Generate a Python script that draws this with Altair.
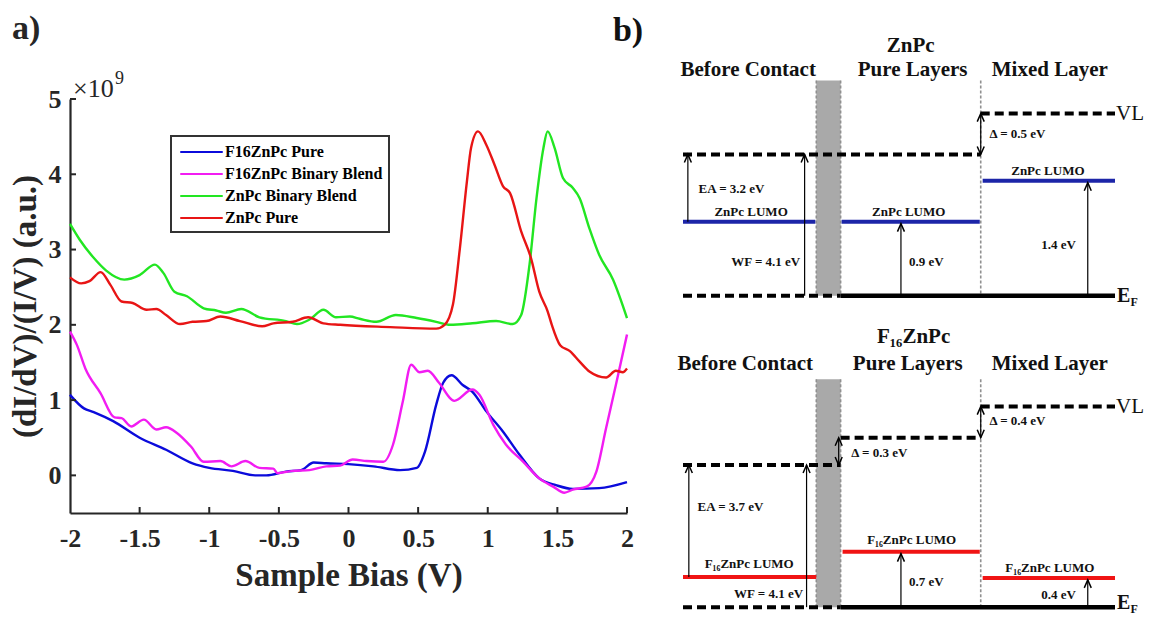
import altair as alt
import pandas as pd

FONT = "Liberation Serif"
AX = "#262626"

# ---------------- panel a) : STS curves ----------------
series_names = ["F16ZnPc Pure", "F16ZnPc Binary Blend", "ZnPc Binary Blend", "ZnPc Pure"]
series_colors = ["#0b0bdb", "#f21cf2", "#22e622", "#e81515"]

f16_pure_x = [-2.00, -1.90, -1.83, -1.69, -1.50, -1.31, -1.12, -1.00, -0.83, -0.67, -0.59, -0.45, -0.34,
              -0.25, -0.16, 0.00, 0.18, 0.37, 0.49, 0.55, 0.63, 0.68, 0.74, 0.82, 0.89, 0.99, 1.11, 1.23,
              1.37, 1.49, 1.61, 1.80, 2.00]
f16_pure_y = [1.07, 0.89, 0.84, 0.72, 0.50, 0.34, 0.16, 0.10, 0.06, 0.00, 0.00, 0.05, 0.07,
              0.17, 0.16, 0.15, 0.12, 0.07, 0.10, 0.32, 0.94, 1.23, 1.33, 1.20, 1.11, 0.85, 0.58, 0.27,
              -0.04, -0.13, -0.18, -0.17, -0.09]

f16_blend_x = [-2.00, -1.95, -1.89, -1.78, -1.68, -1.63, -1.56, -1.47, -1.38, -1.31, -1.23, -1.13, -1.04,
               -0.92, -0.84, -0.74, -0.64, -0.54, -0.51, -0.40, -0.28, -0.16, -0.06, 0.03, 0.13, 0.25,
               0.32, 0.39, 0.45, 0.51, 0.57, 0.65, 0.76, 0.89, 0.94, 1.04, 1.13, 1.25, 1.37, 1.47, 1.55,
               1.61, 1.71, 1.78, 1.85, 1.92, 2.00]
f16_blend_y = [1.91, 1.73, 1.42, 1.09, 0.77, 0.76, 0.65, 0.74, 0.61, 0.64, 0.56, 0.38, 0.18,
               0.19, 0.12, 0.19, 0.10, 0.09, 0.03, 0.06, 0.07, 0.12, 0.13, 0.21, 0.19, 0.18,
               0.41, 0.98, 1.47, 1.37, 1.39, 1.23, 0.99, 1.14, 1.07, 0.67, 0.41, 0.19, -0.04, -0.15, -0.23,
               -0.19, -0.15, 0.05, 0.63, 1.20, 1.87]

znpc_blend_x = [-2.00, -1.93, -1.83, -1.74, -1.61, -1.50, -1.39, -1.33, -1.25, -1.16, -1.04, -0.95, -0.88,
                -0.77, -0.64, -0.45, -0.37, -0.28, -0.18, -0.09, 0.01, 0.08, 0.20, 0.34, 0.49, 0.63, 0.73,
                0.89, 1.06, 1.18, 1.24, 1.30, 1.35, 1.40, 1.43, 1.48, 1.54, 1.61, 1.66, 1.73, 1.80, 1.90, 2.00]
znpc_blend_y = [3.34, 3.13, 2.89, 2.72, 2.60, 2.66, 2.80, 2.69, 2.44, 2.38, 2.22, 2.19, 2.16,
                2.21, 2.10, 2.05, 2.01, 2.07, 2.20, 2.10, 2.11, 2.08, 2.04, 2.13, 2.09, 2.04, 2.00,
                2.02, 2.05, 2.01, 2.13, 2.80, 3.68, 4.35, 4.57, 4.35, 3.95, 3.82, 3.68, 3.28, 2.93, 2.60, 2.09]

znpc_pure_x = [-2.00, -1.92, -1.86, -1.78, -1.71, -1.63, -1.55, -1.45, -1.38, -1.31, -1.21, -1.12, -1.02,
               -0.92, -0.78, -0.62, -0.54, -0.40, -0.29, -0.18, -0.06, 0.30, 0.63, 0.69, 0.75, 0.80, 0.85,
               0.88, 0.93, 0.99, 1.05, 1.11, 1.16, 1.24, 1.31, 1.37, 1.43, 1.46, 1.52, 1.59, 1.66, 1.73,
               1.85, 1.92, 1.97, 2.00]
znpc_pure_y = [2.63, 2.55, 2.58, 2.70, 2.53, 2.31, 2.29, 2.20, 2.21, 2.13, 2.01, 2.04, 2.05,
               2.11, 2.05, 1.98, 2.02, 2.04, 2.10, 2.02, 2.00, 1.97, 1.95, 2.00, 2.27, 3.02, 3.90,
               4.35, 4.57, 4.39, 4.12, 3.84, 3.75, 3.24, 2.89, 2.44, 2.18, 2.00, 1.73, 1.65, 1.51, 1.38,
               1.30, 1.39, 1.37, 1.42]

x_ticks = [-2, -1.5, -1, -0.5, 0, 0.5, 1, 1.5, 2]
y_ticks = [0, 1, 2, 3, 4, 5]
x_inner_ticks = [-1.5, -1, -0.5, 0, 0.5, 1, 1.5, 2]

curves = pd.concat([
    pd.DataFrame({"bias": f16_pure_x, "didv": f16_pure_y, "series": series_names[0]}),
    pd.DataFrame({"bias": f16_blend_x, "didv": f16_blend_y, "series": series_names[1]}),
    pd.DataFrame({"bias": znpc_blend_x, "didv": znpc_blend_y, "series": series_names[2]}),
    pd.DataFrame({"bias": znpc_pure_x, "didv": znpc_pure_y, "series": series_names[3]}),
], ignore_index=True)

LW, LH = 557, 414
xs = alt.Scale(domain=[-2, 2], nice=False, zero=False)
ys = alt.Scale(domain=[-0.5, 5], nice=False, zero=False)
px_x = 4 / LW          # data units per pixel
px_y = 5.5 / LH

lines = alt.Chart(curves).mark_line(strokeWidth=2.4, interpolate="monotone").encode(
    x=alt.X("bias:Q", scale=xs, axis=alt.Axis(
        values=x_ticks, format="~g", title="Sample Bias (V)", grid=False, ticks=False, tickSize=0,
        labelExpr="replace(datum.label, '\u2212', '-')", labelFlush=False, labelOverlap=False,
        labelFont=FONT, labelFontSize=26, labelFontWeight="bold", labelColor=AX, labelPadding=12,
        titleFont=FONT, titleFontSize=33, titleFontWeight="bold", titleColor=AX, titlePadding=8,
        domainColor=AX, domainWidth=2.2)),
    y=alt.Y("didv:Q", scale=ys, axis=alt.Axis(
        values=y_ticks, format="~g", title="(dI/dV)/(I/V) (a.u.)", grid=False, ticks=False, tickSize=0,
        labelFlush=False, labelOverlap=False,
        labelFont=FONT, labelFontSize=26, labelFontWeight="bold", labelColor=AX, labelPadding=9,
        titleFont=FONT, titleFontSize=33, titleFontWeight="bold", titleColor=AX, titlePadding=6,
        domainColor=AX, domainWidth=2.2)),
    color=alt.Color("series:N", scale=alt.Scale(domain=series_names, range=series_colors),
                    legend=alt.Legend(title=None, orient="none", legendX=101, legendY=37,
                                      strokeColor="#333333", fillColor="white", padding=6,
                                      symbolType="M-2.5,0L2.5,0", symbolSize=289, symbolOffset=14.5,
                                      symbolStrokeWidth=2.2, labelOffset=13.5,
                                      labelFont=FONT, labelFontSize=16, labelFontWeight="bold",
                                      labelColor="black", rowPadding=4)),
)

xt = pd.DataFrame({"bias": x_inner_ticks, "didv": -0.5, "didv2": -0.5 + 6 * px_y})
yt = pd.DataFrame({"didv": y_ticks, "bias": -2.0, "bias2": -2.0 + 6 * px_x})
xtick_layer = alt.Chart(xt).mark_rule(color=AX, strokeWidth=2).encode(
    x=alt.X("bias:Q", scale=xs), y=alt.Y("didv:Q", scale=ys), y2="didv2:Q")
ytick_layer = alt.Chart(yt).mark_rule(color=AX, strokeWidth=2).encode(
    y=alt.Y("didv:Q", scale=ys), x=alt.X("bias:Q", scale=xs), x2="bias2:Q")

a_texts = pd.DataFrame({
    "bias": [-2.0 - 58 * px_x, -2.0 + 3 * px_x, -2.0 + 45 * px_x],
    "didv": [5.0 + 70 * px_y, 5.0 + 10 * px_y, 5.0 + 20 * px_y],
    "label": ["a)", "\u00d710", "9"],
    "kind": ["panel", "mult", "exp"],
})
def a_text(kind, size, weight):
    return alt.Chart(a_texts).transform_filter(alt.datum.kind == kind).mark_text(
        font=FONT, fontSize=size, fontWeight=weight, align="left", baseline="middle", color=AX
    ).encode(x=alt.X("bias:Q", scale=xs), y=alt.Y("didv:Q", scale=ys), text="label:N")

left = alt.layer(
    lines, xtick_layer, ytick_layer,
    a_text("panel", 34, "bold"), a_text("mult", 26, "normal"), a_text("exp", 18, "normal"),
).properties(width=LW, height=LH)

# ---------------- panel b) : energy level diagrams (schematic units) ----------------
seg_x = [683, 989, 683, 845, 683, 846, 991, 683, 845, 989, 683, 845, 683, 847, 991]
seg_x2 = [989, 1127, 845, 1127, 819, 988, 1127, 845, 989, 1127, 845, 1127, 820, 988, 1127]
seg_y = [158, 116, 303, 303, 227, 227, 185, 477, 449, 417, 623, 623, 592, 566, 593]
seg_kind = ["dash", "dash", "dash", "solid", "blue", "blue", "blue",
            "dash", "dash", "dash", "dash", "solid", "red", "red", "red"]

band_x = [820, 820]
band_x2 = [845, 845]
band_y = [82, 389]
band_y2 = [303, 623]

vline_x = [820, 845, 989, 820, 845, 989]
vline_y = [82, 82, 82, 389, 389, 389]
vline_y2 = [303, 303, 303, 623, 623, 623]

arrow_x = [688, 808, 907, 1099, 989, 689, 810, 907, 1099, 989, 843]
arrow_tail = [227, 303, 303, 303, 158, 592, 623, 623, 623, 449, 477]
arrow_head = [158, 158, 229, 187, 116, 477, 477, 568, 595, 417, 449]
arrow_double = [False, False, False, False, True, False, False, False, False, True, True]

txt_label = ["b)",
             "ZnPc", "Before Contact", "Pure Layers", "Mixed Layer", "VL", "E", "F",
             "\u0394 = 0.5 eV", "EA = 3.2 eV", "ZnPc LUMO", "ZnPc LUMO", "ZnPc LUMO",
             "WF = 4.1 eV", "0.9 eV", "1.4 eV",
             "F\u2081\u2086ZnPc", "Before Contact", "Pure Layers", "Mixed Layer", "VL", "E", "F",
             "\u0394 = 0.4 eV", "\u0394 = 0.3 eV", "EA = 3.7 eV", "WF = 4.1 eV",
             "F\u2081\u2086ZnPc LUMO", "F\u2081\u2086ZnPc LUMO", "F\u2081\u2086ZnPc LUMO", "0.7 eV", "0.4 eV"]
txt_x = [611,
         917, 750, 919, 1060, 1128, 1129, 1143,
         998, 699, 753, 915, 1058,
         768, 933, 1069,
         920, 747, 914, 1060, 1128, 1129, 1143,
         998, 856, 698, 771,
         751, 918, 1060, 933, 1069]
txt_y = [31,
         47, 71, 71, 71, 116, 303, 310,
         137, 193, 217, 217, 175,
         268, 268, 251,
         345, 373, 373, 373, 417, 619, 625,
         432, 465, 520, 609,
         579, 554, 583, 597, 611]
txt_style = ["panel",
             "header", "header", "header", "header", "level", "ef", "efsub",
             "noteL", "noteL", "note", "note", "note",
             "note", "note", "note",
             "header", "header", "header", "header", "level", "ef", "efsub",
             "noteL", "noteL", "noteL", "note",
             "note", "note", "note", "note", "note"]

RW, RH = 432, 403
rxs = alt.Scale(domain=[683, 1127], nice=False, zero=False)
rys = alt.Scale(domain=[101, 515], nice=False, zero=False, reverse=True)

segs = pd.DataFrame({"x": seg_x, "x2": seg_x2, "y": seg_y, "kind": seg_kind})
bands = pd.DataFrame({"x": band_x, "x2": band_x2, "y": band_y, "y2": band_y2})
vlines = pd.DataFrame({"x": vline_x, "y": vline_y, "y2": vline_y2})
arrows = pd.DataFrame({"x": arrow_x, "y": arrow_tail, "y2": arrow_head, "double": arrow_double})
heads_up = pd.DataFrame({"x": arrow_x, "y": arrow_head})
heads_down = arrows[arrows["double"]][["x", "y"]]
texts = pd.DataFrame({"x": txt_x, "y": txt_y, "label": txt_label, "style": txt_style})

RX = alt.X("x:Q", scale=rxs, axis=None)
RY = alt.Y("y:Q", scale=rys, axis=None)

band_layer = alt.Chart(bands).mark_rect(color="#a9a9a9").encode(x=RX, x2="x2:Q", y=RY, y2="y2:Q")
vline_layer = alt.Chart(vlines).mark_rule(color="#909090", strokeWidth=1.6, strokeDash=[3, 2]).encode(
    x=RX, y=RY, y2="y2:Q")

def seg_layer(kind, **kw):
    return alt.Chart(segs).transform_filter(alt.datum.kind == kind).mark_rule(**kw).encode(
        x=RX, x2="x2:Q", y=RY)

dash_layer = seg_layer("dash", color="black", strokeWidth=4, strokeDash=[9, 5])
solid_layer = seg_layer("solid", color="black", strokeWidth=4.5)
blue_layer = seg_layer("blue", color="#1c25a8", strokeWidth=4)
red_layer = seg_layer("red", color="#f01414", strokeWidth=4)

shaft_layer = alt.Chart(arrows).mark_rule(color="black", strokeWidth=1.2).encode(x=RX, y=RY, y2="y2:Q")
up_layer = alt.Chart(heads_up).mark_point(shape="M-0.7,1.6L0,0L0.7,1.6", size=100, filled=False,
                                          color="black", strokeWidth=1.5, opacity=1).encode(x=RX, y=RY)
down_layer = alt.Chart(heads_down).mark_point(shape="M-0.7,-1.6L0,0L0.7,-1.6", size=100, filled=False,
                                              color="black", strokeWidth=1.5, opacity=1).encode(x=RX, y=RY)

def txt_layer(style, size, weight, align):
    return alt.Chart(texts).transform_filter(alt.datum.style == style).mark_text(
        font=FONT, fontSize=size, fontWeight=weight, align=align, baseline="middle", color="#111111"
    ).encode(x=RX, y=RY, text="label:N")

right = alt.layer(
    band_layer, vline_layer, dash_layer, solid_layer, blue_layer, red_layer,
    shaft_layer, up_layer, down_layer,
    txt_layer("panel", 34, "bold", "left"),
    txt_layer("header", 21, "bold", "center"),
    txt_layer("level", 21, "normal", "left"),
    txt_layer("ef", 20, "bold", "left"),
    txt_layer("efsub", 12, "bold", "left"),
    txt_layer("note", 13, "bold", "center"),
    txt_layer("noteL", 13, "bold", "left"),
).properties(width=RW, height=RH)

chart = alt.hconcat(left, right, spacing=56, bounds="flush").resolve_scale(
    color="independent"
).properties(
    padding={"left": 1, "top": 3, "right": 0, "bottom": 0}
).configure_view(stroke=None).configure_legend(strokeWidth=2)

chart.save("out.html", embed_options={"renderer": "svg", "actions": False})
